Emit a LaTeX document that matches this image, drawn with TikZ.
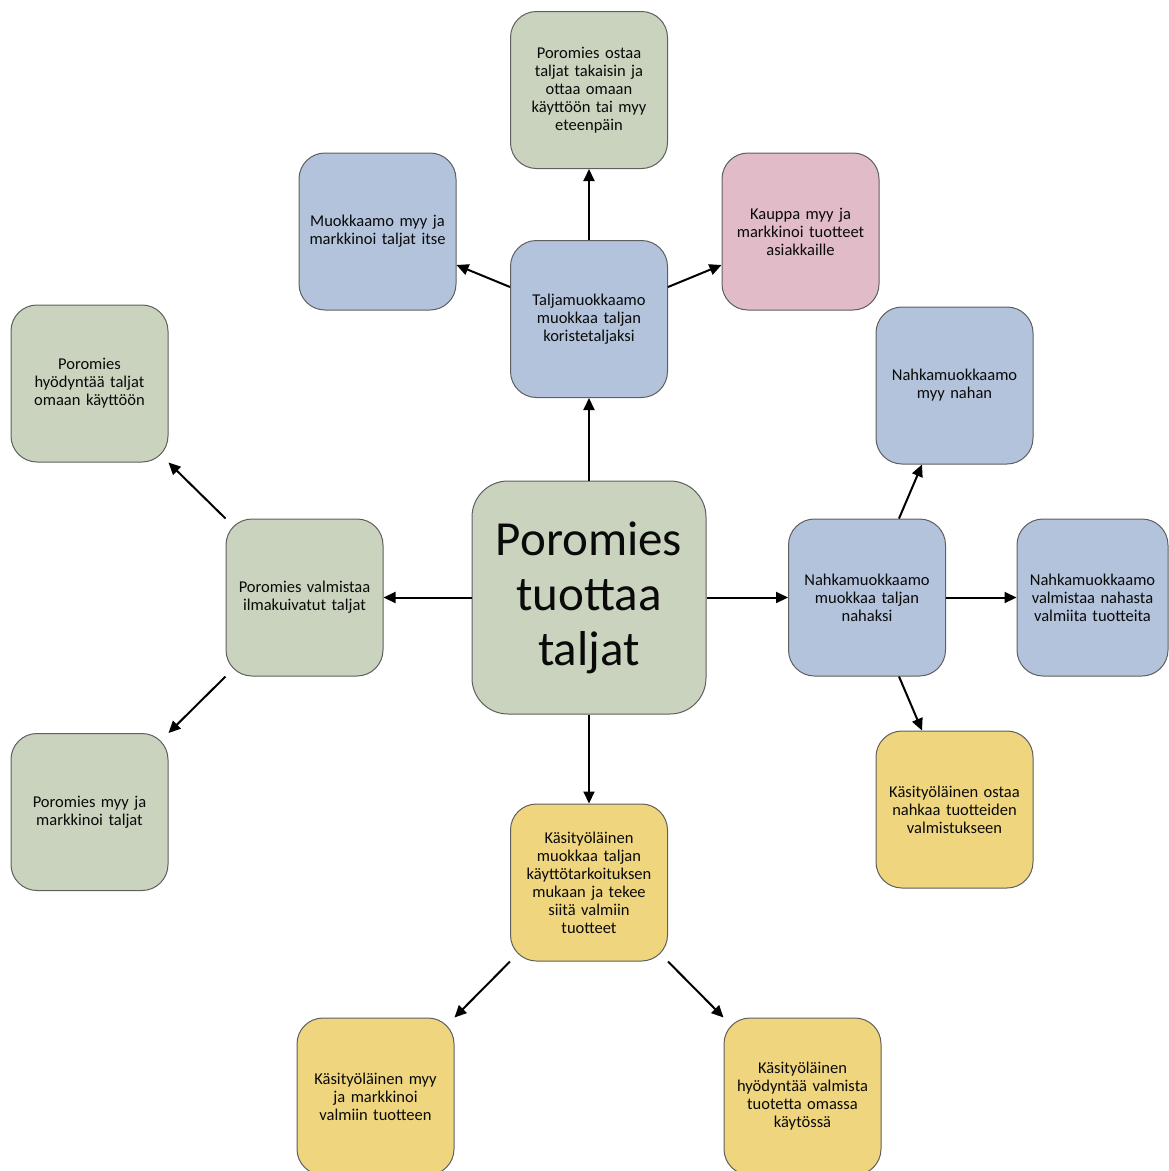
\documentclass[tikz,border=0pt]{standalone}
\usepackage{fontspec}
\setmainfont{Carlito}[WordSpace=0.55]
\usetikzlibrary{arrows.meta}
\definecolor{cgreen}{RGB}{201,211,189}
\definecolor{cblue}{RGB}{178,195,219}
\definecolor{cpink}{RGB}{225,187,199}
\definecolor{cyellow}{RGB}{238,213,126}
\definecolor{cborder}{RGB}{95,95,95}
\definecolor{ctext}{RGB}{10,10,10}
\begin{document}
\begin{tikzpicture}[x=1pt,y=-1pt,
  box/.style={draw=cborder, line width=1pt, rounded corners=26pt, minimum width=157pt, minimum height=157pt,
    text width=150pt, align=center, inner sep=0pt, text=ctext,
    font=\fontsize{16.5}{18}\selectfont},
  gbox/.style={box, fill=cgreen},
  bbox/.style={box, fill=cblue},
  pbox/.style={box, fill=cpink},
  ybox/.style={box, fill=cyellow},
  arr/.style={line width=2pt, -{Triangle[length=12pt,width=11pt]}}]
\useasboundingbox (0,0) rectangle (1169,1171);
\node[gbox, minimum width=234pt, minimum height=233pt, rounded corners=36pt, text width=220pt,
  font=\fontsize{49}{55}\selectfont] (c) at (589,597.5) {Poromies\\tuottaa\\taljat};
\node[bbox] (tm) at (589,319) {Taljamuokkaamo\\muokkaa taljan\\koristetaljaksi};
\node[gbox] (top) at (589,90) {Poromies ostaa\\taljat takaisin ja\\ottaa omaan\\käyttöön tai myy\\eteenpäin};
\node[bbox] (mm) at (377.5,231.5) {Muokkaamo myy ja\\markkinoi taljat itse};
\node[pbox] (ka) at (800.5,231.5) {Kauppa myy ja\\markkinoi tuotteet\\asiakkaille};
\node[gbox] (lv) at (304.5,597.5) {Poromies valmistaa\\ilmakuivatut taljat};
\node[gbox] (lt) at (89.5,383.5) {Poromies\\hyödyntää taljat\\omaan käyttöön};
\node[gbox] (lb) at (89.5,812) {Poromies myy ja\\markkinoi taljat};
\node[bbox] (rn) at (867,597.5) {Nahkamuokkaamo\\muokkaa taljan\\nahaksi};
\node[bbox] (rt) at (954.5,385.5) {Nahkamuokkaamo\\myy nahan};
\node[bbox, minimum width=151pt] (rr) at (1092.5,597.5) {Nahkamuokkaamo\\valmistaa nahasta\\valmiita tuotteita};
\node[ybox] (rb) at (954.5,809.5) {Käsityöläinen ostaa\\nahkaa tuotteiden\\valmistukseen};
\node[ybox] (bk) at (589,882.5) {Käsityöläinen\\muokkaa taljan\\käyttötarkoituksen\\mukaan ja tekee\\siitä valmiin\\tuotteet};
\node[ybox] (bl) at (375.5,1096.5) {Käsityöläinen myy\\ja markkinoi\\valmiin tuotteen};
\node[ybox] (br) at (802.5,1096.5) {Käsityöläinen\\hyödyntää valmista\\tuotetta omassa\\käytössä};
\draw[arr] (c.north) -- (tm.south);
\draw[arr] (tm.north) -- (top.south);
\draw[arr] ([yshift=32pt]tm.west) -- ([yshift=-33.5pt]mm.east);
\draw[arr] ([yshift=32pt]tm.east) -- ([yshift=-33.5pt]ka.west);
\draw[arr] (c.west) -- (lv.east);
\draw[arr] (lv.north west) -- (lt.south east);
\draw[arr] (lv.south west) -- (lb.north east);
\draw[arr] (c.east) -- (rn.west);
\draw[arr] (rn.east) -- (rr.west);
\draw[arr] ([xshift=32pt]rn.north) -- ([xshift=-32.5pt]rt.south);
\draw[arr] ([xshift=32pt]rn.south) -- ([xshift=-32.5pt]rb.north);
\draw[arr] (c.south) -- (bk.north);
\draw[arr] (bk.south west) -- (bl.north east);
\draw[arr] (bk.south east) -- (br.north west);
\end{tikzpicture}
\end{document}
